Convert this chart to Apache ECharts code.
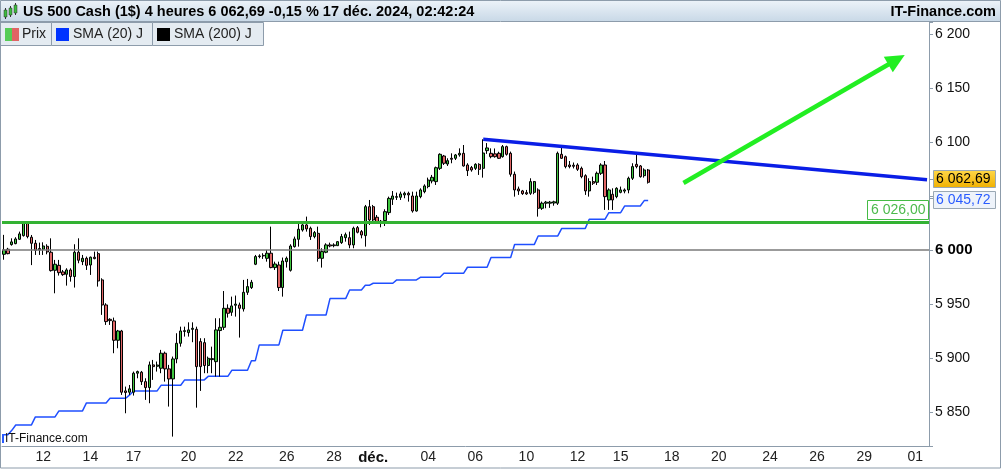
<!DOCTYPE html>
<html><head><meta charset="utf-8">
<script src="https://cdn.jsdelivr.net/npm/echarts@6/dist/echarts.min.js"></script>
<style>html,body{margin:0;padding:0;background:#fff}#c{width:1001px;height:469px}</style>
</head><body><div id="c"></div>
<script>
const FONT = '"Liberation Sans", Arial, sans-serif';
// candles: [open, close, low, high]
const candles = [
[5996,6000,5991,6014],[6000.7,5996.6,5996,6002],[6005,6007.5,6004,6010.8],[6005.9,6010.2,6005.3,6011.8],
[6009.9,6014.9,6009.3,6017],[6013.3,6024.7,6012.4,6026.3],[6025.6,6012.4,6010.8,6026.3],[6011.8,6006.2,5986,6013.9],
[6006.2,5999.7,5995.4,6009.3],[6001.3,6000,5995.4,6006.8],[6000.7,6003.7,5995.4,6007.1],[6003.4,5998.2,5996,6005.3],
[5997.9,5980.9,5980,6010.8],[5981.2,5986.8,5959.9,5990.8],[5985.8,5979,5976.3,5990.8],[5979.7,5977.2,5976,5981.5],
[5977.5,5981.5,5967,5983.1],[5981.5,5975.4,5970.7,5983.1],[5975.4,5997.9,5965.2,6005.3],[5997.9,5990.5,5987.7,6010.8],
[5989.2,5992.3,5986,5995.4],[5992.3,5985.8,5981.5,5993.9],[5986.1,5993.3,5976.9,5993.9],[5993.3,5992,5991.4,5998.5],
[5996.6,5971.3,5966.1,5998.5],[5972.3,5949.1,5939.9,5973.8],[5949.1,5933.7,5930.6,5950.7],[5935.8,5934.6,5930.6,5936.8],
[5934.3,5916.4,5904.4,5937.4],[5916.4,5925,5909,5926],[5925,5868.3,5865.8,5926],[5869.5,5868,5848.8,5873.5],
[5868.3,5871.4,5865.8,5875],[5868.3,5885.9,5865.2,5887.4],[5885.9,5887.4,5881.2,5888.3],[5886.8,5878.1,5875,5888],
[5878.1,5872.6,5861.2,5881.2],[5872.6,5893.6,5858.1,5896.7],[5893.6,5892,5879.7,5898.2],[5892.3,5893.5,5887.4,5896.7],
[5890.5,5904.4,5885.9,5907.5],[5904.4,5889.9,5878.1,5905.9],[5889.9,5880.6,5855,5893.6],[5880.6,5899.1,5827.2,5901.3],
[5899.1,5913.6,5895.1,5922.9],[5913.6,5925,5910.5,5929],[5924.6,5925.3,5919.8,5929],[5923.5,5926,5919.8,5933],
[5926.5,5927.5,5914.6,5933],[5926.6,5892,5854,5929],[5915.2,5892,5869.5,5918.3],[5914.2,5893,5885.9,5918.3],
[5893,5899.7,5885.9,5901.3],[5898.5,5899.4,5885.9,5910.5],[5896.6,5926,5882.8,5936.8],[5925.4,5928.4,5882.8,5936.8],
[5928.4,5946,5926,5962],[5946,5941.4,5937.4,5949.7],[5942.3,5948.2,5939,5956.8],[5948.8,5949.9,5938.3,5957.8],
[5949.1,5946,5918.9,5951.3],[5945.4,5960.8,5943,5972.3],[5960.8,5966.1,5958.4,5973.2],[5965.2,5970.1,5963.9,5972.3],
[5986.8,5993.9,5986,5995.4],[5993.9,5994.5,5992.3,5996],[5994.5,5995,5991.7,5997],[5992.3,5997,5989.2,6000],
[5997,5983.7,5983.1,6021.6],[5983.7,5987,5981.5,5989.2],[5986.1,5965.2,5962,5989.2],[5965.2,5989.8,5956.8,5993],
[5989.2,5992.3,5983.7,5993.9],[5981.2,6003.7,5980,6005.3],[6003.1,6010.2,6002.2,6012.4],[6009.9,6019.2,6003.1,6026.3],
[6018.5,6023.2,6017,6026.3],[6023.2,6019.5,6017,6030.9],[6020.1,6012.4,6009.3,6021.6],[6012.4,6016.1,6010.8,6017.6],
[6015.4,5992.3,5989.2,6021.6],[5992.3,5998.5,5983.7,6001.6],[5997.9,6004.7,5997,6006.2],[6004.7,6003.7,6002.5,6006.8],
[6004,6004.7,6002.5,6006.2],[6004,6007.7,6003.7,6008.3],[6006.8,6012.4,6005.6,6014.9],[6011.4,6014.2,6007.7,6016.1],
[6011.4,6004.7,6001.6,6017],[6004.7,6020.1,6001.6,6021.6],[6020.7,6016.4,6015.4,6022.2],[6017,6013.9,6010.8,6018.5],
[6013.3,6040.1,6003.1,6041.7],[6040.1,6027.8,6023.2,6046.3],[6040.1,6027.8,6026.3,6041.7],[6030.3,6026,6024.7,6032.4],
[6026.6,6025.3,6021,6027.8],[6027.2,6035.5,6022.2,6037.7],[6034.6,6047.8,6032.4,6049.4],[6047,6050,6041.7,6054.6],
[6048.8,6049.4,6046.3,6053.1],[6048.8,6051.9,6046.3,6054],[6051,6052.5,6047.9,6054],[6052.5,6051,6044.8,6054],
[6050,6036.1,6034.6,6054],[6036.1,6050,6035.5,6054],[6049.4,6055.6,6047.9,6057.1],[6054,6059.3,6052.5,6060.8],
[6058.7,6064.8,6057.1,6067],[6063.9,6067.3,6061.7,6069.5],[6063.3,6076.2,6060.2,6077.2],[6075.6,6088.6,6074.1,6089.5],
[6087,6080.3,6078.7,6088],[6079.6,6082.7,6077.8,6084.9],[6084.9,6084,6080.3,6089.5],[6084.9,6088,6083.3,6088.9],
[6088,6089.5,6086.4,6094.1],[6089.5,6077.8,6077.2,6097.2],[6078.7,6073.5,6068.5,6080.3],[6076.3,6074.1,6072.5,6077.8],
[6075.6,6079.3,6074.1,6080.3],[6079.3,6074.7,6069.5,6080.3],[6075.6,6089.8,6067,6102.5],[6092,6094.5,6089,6099],
[6089.5,6086.4,6084.9,6094.1],[6089,6086.4,6085.5,6094],[6089.5,6084.9,6084.3,6091],[6086.4,6095.7,6085.5,6097.2],
[6095.7,6088.6,6087.4,6096.6],[6089.5,6070.1,6067.9,6091.1],[6070.1,6055.6,6049.4,6072.6],[6056.5,6054.7,6051,6058.7],
[6054.7,6052.2,6051,6055.6],[6053.1,6051.9,6051,6055.6],[6052.5,6063.3,6051,6066.4],[6053.4,6063.3,6051.6,6063.9],
[6055.6,6038.6,6030.9,6057.1],[6038.6,6043.3,6037.1,6044.8],[6043.3,6044.3,6038.6,6045.4],[6043.3,6044.3,6039,6045.4],
[6043.5,6044.6,6041,6045.6],[6043.3,6089.5,6041.7,6091.1],[6088.6,6084.9,6084.3,6096],[6086.4,6077.2,6075.6,6087.4],
[6078.7,6077.2,6075.6,6082.4],[6078.5,6077.5,6075.5,6081],[6078.7,6074.7,6073.2,6080.3],[6075.6,6067.9,6066.4,6077.2],
[6068.8,6054.7,6051,6070.1],[6054.7,6063.3,6049.4,6066.4],[6063.3,6061.8,6060.2,6067.9],[6062.7,6071,6060.2,6072.6],
[6071,6078.7,6069.5,6080.3],[6078.7,6049.4,6037.1,6082.4],[6046.3,6055.6,6037.1,6057.1],[6051.6,6046.3,6037.1,6057.1],
[6049.4,6057.1,6047.9,6058.1],[6053.4,6055.6,6052.5,6058.7],[6054.5,6055.6,6052.5,6057],[6055.6,6066.4,6052.5,6067.9],
[6066.4,6077.2,6064.8,6080.3],[6079.3,6077.2,6075.6,6088],[6077.8,6067.9,6067,6078.7],[6068.8,6074.1,6067,6075.6],
[6074.1,6062.69,6061.5,6075]
];
// daily SMA (20) as plotted on each 4h bar
const sma20 = [
5829,5829,5833,
5838,5838,5838,5838,5838,
5845.4,5845.4,5845.4,5845.4,5845.4,5845.4,
5851,5851,5851,5851,5851,5851,5851,
5858.4,5858.4,5858.4,5858.4,5858.4,5858.4,
5862.7,5862.7,5862.7,5862.7,5862.7,
5865.8,
5869.5,5869.5,5869.5,5869.5,5869.5,5869.5,5869.5,
5874.7,5874.7,5874.7,5874.7,5874.7,5874.7,
5879.7,5879.7,5879.7,5879.7,5879.7,5879.7,
5883,5883,5883,5883,5883,5883,
5888.6,5888.6,5888.6,5888.6,5888.6,
5897.5,5897.5,
5912.1,5912.1,5912.1,5912.1,5912.1,5912.1,
5925.7,5925.7,5925.7,5925.7,5925.7,5925.7,
5939.8,5939.8,5939.8,5939.8,5939.8,5939.8,
5955,5955,5955,5955,5955,
5963,5963,5963,5963,
5967.3,5967.3,
5969.2,5969.2,5969.2,5969.2,5969.2,5969.2,
5972.3,5972.3,5972.3,5972.3,5972.3,5972.3,
5974.7,5974.7,5974.7,5974.7,5974.7,5974.7,
5978.4,5978.4,5978.4,5978.4,5978.4,5978.4,
5984,5984,5984,5984,5984,5984,
5993,5993,5993,5993,5993,5993,
6005,6005,6005,6005,6005,6005,
6013,6013,6013,6013,6013,6013,
6020,6020,6020,6020,6020,6020,6020,
6028.4,6028.4,6028.4,6028.4,6028.4,
6034.5,6034.5,6034.5,6034.5,
6040.7,6040.7,6040.7,6040.7,6040.7,
6045.72,6045.72
];
const slotCount = 236;
const tickLabels = ['12','14','17','20','22','26','28','déc.','04','06','10','12','15','18','20','24','26','29','01'];
const tickSlots  = [10,22,33,47,59,72,84,94,108,120,133,146,157,170,182,195,207,219,232];
const mondaySlots = [2,35,64,96,158,187,220];
const supportLevel = 6026;
const roundLevel = 6000;
const trendLine = [[122, 6102.5], [235, 6065]];
const arrowLine = [[173, 6062], [228, 6177.8]];
const lastPrice = 6062.69;
const lastSma = 6045.72;
const yMin = 5818.5, yMax = 6211.1;
const yHidden = [6050];
const titleText = 'US 500 Cash (1$) 4 heures 6 062,69 -0,15 % 17 déc. 2024, 02:42:24';

const slots = Array.from({length: slotCount}, (_, i) => 's' + i);
const labelBySlot = {};
tickSlots.forEach((s, k) => labelBySlot[s] = tickLabels[k]);
const tickSet = new Set(tickSlots.concat(mondaySlots));
const fmt = (v, d) => {
  const s = v.toFixed(d || 0).split('.');
  s[0] = s[0].replace(/\B(?=(\d{3})+(?!\d))/g, ' ');
  return s.join(',');
};
const AX = '#8d9cab';

const chart = echarts.init(document.getElementById('c'), null, {renderer: 'canvas'});
chart.setOption({
  animation: false,
  backgroundColor: '#fff',
  grid: {left: 2, right: 72, top: 22, bottom: 23},
  xAxis: {
    type: 'category', data: slots, boundaryGap: true,
    axisLine: {lineStyle: {color: AX, width: 1}},
    axisTick: {alignWithLabel: true, length: 4, interval: (i) => tickSet.has(i), lineStyle: {color: AX}},
    axisLabel: {
      interval: (i) => labelBySlot[i] !== undefined,
      formatter: (v) => { const i = parseInt(v.slice(1)); const t = labelBySlot[i] || ''; return t === 'déc.' ? '{b|' + t + '}' : t; },
      color: '#222', fontSize: 14, fontFamily: FONT, margin: 4,
      rich: {b: {fontWeight: 'bold', fontSize: 15, fontFamily: FONT, color: '#111'}}
    },
    splitLine: {show: false}
  },
  yAxis: {
    type: 'value', position: 'right', min: yMin, max: yMax, splitNumber: 8,
    axisLine: {show: true, lineStyle: {color: AX}},
    axisTick: {show: true, length: 4, lineStyle: {color: AX}},
    axisLabel: {
      margin: 6, fontSize: 14, color: '#111', fontFamily: FONT,
      formatter: (v) => {
        if (Math.abs(v / 50 - Math.round(v / 50)) > 1e-6) return '';
        if (yHidden.indexOf(Math.round(v)) >= 0) return '';
        const s = fmt(v);
        return Math.round(v) === 6000 ? '{b|' + s + '}' : s;
      },
      rich: {b: {fontWeight: 'bold', fontSize: 15, fontFamily: FONT, color: '#000'}}
    },
    splitLine: {show: false}
  },
  series: [
    {
      name: 'SMA (20) J', type: 'line', data: sma20, symbol: 'none', z: 2,
      lineStyle: {color: '#1f4fff', width: 1.5}, silent: true
    },
    {
      name: 'Prix', type: 'candlestick', data: candles, barWidth: 2.8, z: 3,
      itemStyle: {color: '#3fc63f', color0: '#e06565', borderColor: '#000', borderColor0: '#000', borderWidth: 1},
      markLine: {
        silent: true, symbol: 'none', animation: false, z: 4,
        label: {show: false},
        data: [
          {yAxis: roundLevel, lineStyle: {color: '#7a7a7a', width: 1.5, type: 'solid'}},
          {yAxis: supportLevel, lineStyle: {color: '#33b233', width: 3, type: 'solid'}}
        ]
      }
    },
    {
      name: 'trend', type: 'line', data: [], z: 5,
      markLine: {
        silent: true, symbol: 'none', animation: false,
        label: {show: false},
        lineStyle: {color: '#0a1ee6', width: 3.5, type: 'solid'},
        data: [[{coord: trendLine[0]}, {coord: trendLine[1]}]]
      }
    },
    {
      name: 'arrow', type: 'line', data: [], z: 6,
      markLine: {
        silent: true, symbol: 'none', animation: false,
        label: {show: false},
        lineStyle: {color: '#22ee22', width: 4.5, type: 'solid'},
        data: [[{coord: arrowLine[0]}, {coord: arrowLine[1]}]]
      }
    }
  ]
});

const py = (v) => chart.convertToPixel({yAxisIndex: 0}, v);
const els = [];
// arrow head, aligned with the arrow line through the chart's own scales
const a0 = chart.convertToPixel({xAxisIndex: 0, yAxisIndex: 0}, arrowLine[0]);
const a1 = chart.convertToPixel({xAxisIndex: 0, yAxisIndex: 0}, arrowLine[1]);
(function () {
  const dx = a1[0] - a0[0], dy = a1[1] - a0[1], L = Math.sqrt(dx * dx + dy * dy);
  const ux = dx / L, uy = dy / L, nx = -uy, ny = ux;
  const tip = [a1[0] + ux * 6, a1[1] + uy * 6];
  const bc = [a1[0] - ux * 13, a1[1] - uy * 13];
  els.push({type: 'polygon', z: 90, shape: {points: [tip, [bc[0] + nx * 9, bc[1] + ny * 9], [bc[0] - nx * 9, bc[1] - ny * 9]]}, style: {fill: '#22ee22'}});
})();
// header
els.push({type: 'rect', shape: {x: 0, y: 0, width: 1001, height: 21}, z: 100,
  style: {fill: {type: 'linear', x: 0, y: 0, x2: 0, y2: 1, colorStops: [{offset: 0, color: '#edf3f9'}, {offset: 1, color: '#c9d9e7'}]}}});
els.push({type: 'line', shape: {x1: 0, y1: 21.5, x2: 1001, y2: 21.5}, style: {stroke: AX, lineWidth: 1}, z: 101});
// mini candle icon
[[4, 10, 7, '#3dbb3d'], [9, 8, 7, '#3dbb3d'], [14, 5, 8, '#3dbb3d']].forEach(function (c) {
  els.push({type: 'line', shape: {x1: c[0] + 1.5, y1: c[1] - 2, x2: c[0] + 1.5, y2: c[1] + c[2] + 2}, style: {stroke: '#333', lineWidth: 1}, z: 101});
  els.push({type: 'rect', shape: {x: c[0], y: c[1], width: 3, height: c[2]}, style: {fill: c[3], stroke: '#333', lineWidth: 0.5}, z: 102});
});
els.push({type: 'text', x: 23, y: 11.5, z: 102, style: {text: titleText, font: 'bold 14.5px ' + FONT, fill: '#000', textVerticalAlign: 'middle', verticalAlign: 'middle'}});
els.push({type: 'text', x: 996, y: 11.5, z: 102, style: {text: 'IT-Finance.com', font: 'bold 14.5px ' + FONT, fill: '#000', align: 'right', textAlign: 'right', verticalAlign: 'middle', textVerticalAlign: 'middle'}});
// legend boxes
[[0.5, 51], [51.5, 101], [152.5, 111]].forEach(function (b) {
  els.push({type: 'rect', shape: {x: b[0], y: 22.5, width: b[1], height: 23}, style: {fill: '#e4ebf1', stroke: AX, lineWidth: 1}, z: 100});
});
els.push({type: 'rect', shape: {x: 5, y: 28, width: 7, height: 13}, style: {fill: '#55cc55'}, z: 101});
els.push({type: 'rect', shape: {x: 12, y: 28, width: 7, height: 13}, style: {fill: '#e06464'}, z: 101});
els.push({type: 'rect', shape: {x: 56, y: 28, width: 13, height: 13}, style: {fill: '#0033ff'}, z: 101});
els.push({type: 'rect', shape: {x: 157, y: 28, width: 13, height: 13}, style: {fill: '#000'}, z: 101});
[['Prix', 22], ['SMA (20) J', 73], ['SMA (200) J', 174]].forEach(function (t) {
  els.push({type: 'text', x: t[1], y: 34.5, z: 101, style: {text: t[0], font: '14px ' + FONT, fill: '#222', verticalAlign: 'middle', textVerticalAlign: 'middle'}});
});
// outer frame
els.push({type: 'rect', shape: {x: 0.5, y: 0.5, width: 1000, height: 467.5}, style: {fill: 'none', stroke: AX, lineWidth: 1}, z: 103});
// watermark
els.push({type: 'rect', shape: {x: 2, y: 434, width: 2, height: 9}, style: {fill: '#2a5cff'}, z: 50});
els.push({type: 'text', x: 5, y: 439, z: 50, style: {text: 'IT-Finance.com', font: '12px ' + FONT, fill: '#111', verticalAlign: 'middle', textVerticalAlign: 'middle'}});
// support level label
const ys = py(supportLevel);
els.push({type: 'rect', shape: {x: 867.5, y: Math.round(ys) - 21.5, width: 61, height: 19}, style: {fill: '#fff', stroke: '#44bb44', lineWidth: 1}, z: 60});
els.push({type: 'text', x: 871, y: Math.round(ys) - 12, z: 61, style: {text: fmt(supportLevel, 2), font: '14px ' + FONT, fill: '#4cba4c', verticalAlign: 'middle', textVerticalAlign: 'middle'}});
// last price box
const yp = py(lastPrice);
els.push({type: 'rect', shape: {x: 933.5, y: Math.round(yp) - 11.5, width: 62, height: 17}, z: 60,
  style: {fill: {type: 'linear', x: 0, y: 0, x2: 0, y2: 1, colorStops: [{offset: 0, color: '#ffd84a'}, {offset: 1, color: '#f0b000'}]}, stroke: '#9aa8b4', lineWidth: 1}});
els.push({type: 'text', x: 936, y: Math.round(yp) - 3, z: 61, style: {text: fmt(lastPrice, 2), font: '14px ' + FONT, fill: '#000', verticalAlign: 'middle', textVerticalAlign: 'middle'}});
els.push({type: 'line', shape: {x1: 929, y1: Math.round(yp) - 2.5, x2: 933, y2: Math.round(yp) - 2.5}, style: {stroke: AX, lineWidth: 1}, z: 60});
// SMA box
const ym = py(lastSma);
els.push({type: 'rect', shape: {x: 933.5, y: Math.round(ym) - 9.5, width: 62, height: 17}, z: 60,
  style: {fill: '#eef3fa', stroke: '#9aa8b4', lineWidth: 1}});
els.push({type: 'text', x: 936, y: Math.round(ym) - 1, z: 61, style: {text: fmt(lastSma, 2), font: '14px ' + FONT, fill: '#2a5cff', verticalAlign: 'middle', textVerticalAlign: 'middle'}});
els.push({type: 'line', shape: {x1: 929, y1: Math.round(ym) - 2.5, x2: 933, y2: Math.round(ym) - 2.5}, style: {stroke: AX, lineWidth: 1}, z: 60});

chart.setOption({graphic: els});
</script>
</body></html>
